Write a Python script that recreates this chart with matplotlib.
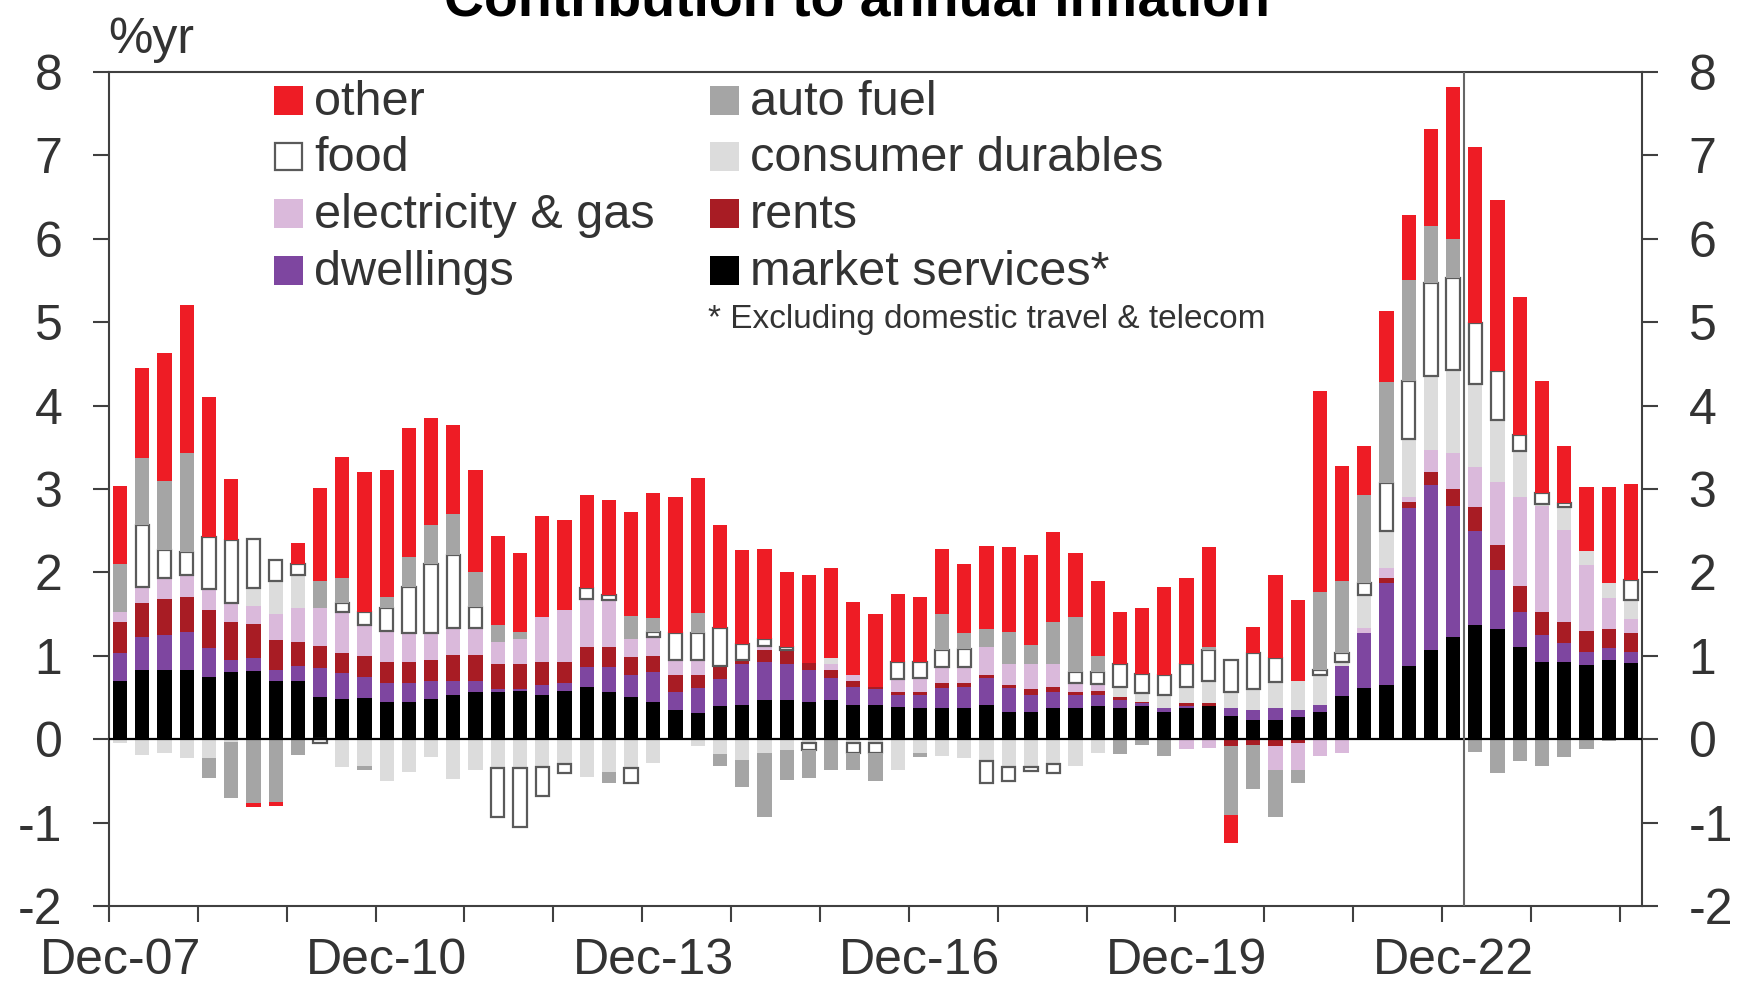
import numpy as np
import matplotlib.pyplot as plt
from matplotlib.patches import Rectangle

plt.rcParams['font.family'] = ['Liberation Sans', 'DejaVu Sans']
plt.rcParams['axes.unicode_minus'] = False

# quarterly categories, Dec-07 .. Dec-24
months = ['Mar', 'Jun', 'Sep', 'Dec']
quarters = ['Dec-07'] + ['%s-%02d' % (m, y) for y in range(8, 25) for m in months]
label_quarters = ['Dec-07', 'Dec-10', 'Dec-13', 'Dec-16', 'Dec-19', 'Dec-22']

# contributions to annual inflation (ppts)
market_services = [0.70, 0.83, 0.83, 0.83, 0.75, 0.80, 0.82, 0.70, 0.70, 0.51,
                   0.48, 0.50, 0.45, 0.45, 0.48, 0.53, 0.57, 0.57, 0.58, 0.53,
                   0.58, 0.63, 0.57, 0.51, 0.45, 0.35, 0.32, 0.40, 0.41, 0.47,
                   0.47, 0.45, 0.47, 0.41, 0.41, 0.39, 0.37, 0.37, 0.37, 0.41,
                   0.33, 0.33, 0.37, 0.37, 0.40, 0.37, 0.40, 0.33, 0.37, 0.40,
                   0.28, 0.23, 0.23, 0.27, 0.33, 0.52, 0.61, 0.65, 0.88, 1.07,
                   1.23, 1.37, 1.32, 1.10, 0.93, 0.93, 0.89, 0.95, 0.91]
dwellings = [0.33, 0.40, 0.42, 0.45, 0.34, 0.15, 0.15, 0.13, 0.18, 0.34,
             0.31, 0.25, 0.22, 0.22, 0.22, 0.17, 0.13, 0.03, 0.02, 0.12,
             0.09, 0.24, 0.30, 0.26, 0.35, 0.22, 0.29, 0.32, 0.49, 0.45,
             0.43, 0.38, 0.26, 0.22, 0.19, 0.14, 0.16, 0.24, 0.26, 0.32,
             0.28, 0.20, 0.20, 0.16, 0.13, 0.10, 0.03, 0.04, 0.03, 0.00,
             0.09, 0.12, 0.14, 0.08, 0.08, 0.36, 0.66, 1.22, 1.89, 1.98,
             1.57, 1.13, 0.71, 0.43, 0.32, 0.22, 0.16, 0.14, 0.13]
rents = [0.37, 0.40, 0.43, 0.43, 0.46, 0.46, 0.41, 0.36, 0.29, 0.27,
         0.24, 0.25, 0.26, 0.26, 0.25, 0.31, 0.31, 0.30, 0.30, 0.28,
         0.26, 0.23, 0.23, 0.22, 0.20, 0.20, 0.16, 0.16, 0.05, 0.15,
         0.17, 0.08, 0.10, 0.07, 0.02, 0.04, 0.04, 0.06, 0.04, 0.04,
         0.04, 0.07, 0.06, 0.04, 0.05, 0.04, 0.02, 0.00, 0.03, 0.03,
         -0.08, -0.07, -0.08, -0.05, 0.00, 0.00, 0.00, 0.06, 0.08, 0.15,
         0.20, 0.28, 0.30, 0.31, 0.28, 0.26, 0.25, 0.23, 0.23]
elec_gas = [0.13, 0.20, 0.25, 0.26, 0.25, 0.22, 0.22, 0.31, 0.40, 0.45,
            0.49, 0.37, 0.37, 0.34, 0.32, 0.32, 0.32, 0.27, 0.30, 0.54,
            0.62, 0.58, 0.57, 0.21, 0.23, 0.18, 0.18, 0.00, 0.00, 0.05,
            0.00, 0.00, 0.07, 0.07, 0.00, 0.15, 0.16, 0.20, 0.20, 0.33,
            0.25, 0.30, 0.27, 0.10, 0.08, 0.00, 0.00, 0.00, -0.12, -0.10,
            0.00, 0.00, -0.29, -0.32, -0.20, -0.17, 0.06, 0.12, 0.05, 0.27,
            0.43, 0.48, 0.75, 1.06, 1.27, 1.10, 0.79, 0.37, 0.17]
durables = [-0.05, -0.19, -0.17, -0.23, -0.23, -0.03, 0.21, 0.40, 0.40, 0.00,
            -0.33, -0.32, -0.50, -0.39, -0.21, -0.48, -0.37, -0.35, -0.35, -0.33,
            -0.30, -0.45, -0.39, -0.35, -0.28, 0.00, -0.08, -0.18, -0.25, -0.17,
            -0.13, -0.05, 0.07, -0.05, -0.05, -0.37, -0.17, -0.20, -0.23, -0.26,
            -0.33, -0.33, -0.30, -0.32, -0.17, 0.12, 0.10, 0.16, 0.20, 0.27,
            0.20, 0.25, 0.31, 0.35, 0.36, 0.04, 0.40, 0.45, 0.70, 0.88,
            1.00, 1.00, 0.75, 0.55, 0.02, 0.27, 0.17, 0.18, 0.23]
food = [0.00, 0.74, 0.34, 0.28, 0.63, 0.76, 0.59, 0.25, 0.13, -0.04,
        0.11, 0.16, 0.27, 0.56, 0.83, 0.88, 0.26, -0.58, -0.70, -0.35,
        -0.10, 0.13, 0.06, -0.18, 0.05, 0.32, 0.32, 0.45, 0.19, 0.08,
        0.04, -0.08, 0.00, -0.12, -0.12, 0.20, 0.20, 0.20, 0.21, -0.27,
        -0.17, -0.05, -0.10, 0.13, 0.14, 0.27, 0.23, 0.24, 0.27, 0.37,
        0.38, 0.43, 0.29, 0.00, 0.06, 0.11, 0.14, 0.57, 0.70, 1.12,
        1.10, 0.73, 0.59, 0.20, 0.13, 0.05, 0.00, 0.00, 0.24]
auto_fuel = [0.57, 0.80, 0.83, 1.18, -0.24, -0.67, -0.77, -0.75, -0.19, 0.33,
             0.30, -0.05, 0.13, 0.35, 0.47, 0.49, 0.42, 0.20, 0.08, 0.00,
             0.00, 0.00, -0.13, 0.28, 0.17, 0.00, 0.24, -0.14, -0.32, -0.76,
             -0.36, -0.33, -0.37, -0.20, -0.33, 0.00, -0.04, 0.43, 0.19, 0.22,
             0.38, 0.23, 0.50, 0.67, 0.20, -0.18, -0.07, -0.20, 0.00, 0.03,
             -0.83, -0.53, -0.56, -0.16, 0.94, 0.87, 1.06, 1.21, 1.20, 0.68,
             0.47, -0.15, -0.41, -0.26, -0.32, -0.21, -0.12, -0.02, 0.00]
other = [0.93, 1.08, 1.53, 1.78, 1.67, 0.73, -0.04, -0.05, 0.25, 1.11,
         1.45, 1.67, 1.53, 1.55, 1.28, 1.07, 1.22, 1.07, 0.95, 1.21,
         1.08, 1.12, 1.14, 1.24, 1.50, 1.63, 1.62, 1.24, 1.13, 1.08,
         0.90, 1.06, 1.08, 0.88, 0.88, 0.82, 0.77, 0.78, 0.83, 1.00,
         1.02, 1.08, 1.08, 0.76, 0.90, 0.63, 0.79, 1.06, 1.03, 1.20,
         -0.33, 0.32, 1.00, 0.97, 2.40, 1.37, 0.58, 0.85, 0.79, 1.17,
         1.82, 2.11, 2.04, 1.65, 1.34, 0.69, 0.76, 1.15, 1.15]

# stacking order from the zero line outwards
series = [
    ('market services*', market_services, '#000000'),
    ('dwellings', dwellings, '#7e46a0'),
    ('rents', rents, '#a81c24'),
    ('electricity & gas', elec_gas, '#dab9db'),
    ('consumer durables', durables, '#dcdcdc'),
    ('food', food, 'white'),
    ('auto fuel', auto_fuel, '#a5a5a5'),
    ('other', other, '#ee1c25'),
]

W, H = 1741, 989
fig = plt.figure(figsize=(W / 100, H / 100), dpi=100)
ax = fig.add_axes([109 / W, 1 - 906 / H, 1533 / W, 834 / H])

x = np.arange(len(quarters))
pos = np.zeros(len(quarters))
neg = np.zeros(len(quarters))
for name, vals, color in series:
    v = np.array(vals)
    base = np.where(v >= 0, pos, neg)
    m = v != 0
    if name == 'food':
        ax.bar(x[m], v[m], 0.6, bottom=base[m], facecolor='white',
               edgecolor='#5a5a5a', linewidth=1.6, zorder=2)
    else:
        ax.bar(x[m], v[m], 0.64, bottom=base[m], color=color, linewidth=0, zorder=2)
    pos += np.clip(v, 0, None)
    neg += np.clip(v, None, 0)

ax.axhline(0, color='black', lw=1.6, zorder=3)
ax.axvline(60.5, color='#666666', lw=1.5, zorder=3)

ax.set_xlim(-0.5, len(quarters) - 0.5)
ax.set_ylim(-2, 8)

ax.set_xticks(np.arange(-0.5, len(quarters) - 1, 4))
ax.set_xticks([quarters.index(q) for q in label_quarters], minor=True)
ax.set_xticklabels(label_quarters, minor=True)
ax.tick_params(axis='x', which='major', direction='out', length=11.5, width=1.5,
               color='#404040', labelbottom=False)
ax.tick_params(axis='x', which='minor', length=0, pad=23, labelsize=36,
               labelcolor='#333333')

yt = list(range(-2, 9))
ax.set_yticks(yt)
ax.set_yticklabels([str(t) for t in yt])
ax.tick_params(axis='y', direction='out', length=11.5, width=1.5, color='#404040',
               labelsize=36, labelcolor='#333333', pad=22,
               left=True, right=True, labelleft=True, labelright=True)

for s in ax.spines.values():
    s.set_color('#404040')
    s.set_linewidth(1.5)


def fx(px):
    return px / W


def fy(py):
    return 1 - py / H


fig.text(fx(857), fy(16), 'Contribution to annual inflation', ha='center',
         va='baseline', fontsize=40, fontweight='bold', color='black')
fig.text(fx(108), fy(53), '%yr', fontsize=36, color='#333333', va='baseline')

# legend, two columns
colors = {n: c for n, _, c in series}
left_col = ['other', 'food', 'electricity & gas', 'dwellings']
right_col = ['auto fuel', 'consumer durables', 'rents', 'market services*']
rows = [101, 157, 214, 271]
for col, x0 in [(left_col, 274), (right_col, 710)]:
    for name, yc in zip(col, rows):
        if name == 'food':
            r = Rectangle((fx(x0 + 1), fy(yc + 13)), 27 / W, 27 / H,
                          transform=fig.transFigure, facecolor='white',
                          edgecolor='#5a5a5a', linewidth=1.6)
        else:
            r = Rectangle((fx(x0), fy(yc + 14)), 29 / W, 29 / H,
                          transform=fig.transFigure, facecolor=colors[name],
                          edgecolor='none')
        fig.add_artist(r)
        fig.text(fx(x0 + 40), fy(yc + 14), name, fontsize=35, color='#333333',
                 va='baseline')

fig.text(fx(708), fy(328), '* Excluding domestic travel & telecom', fontsize=24,
         color='#333333', va='baseline')

fig.savefig('out.png', dpi=100)
